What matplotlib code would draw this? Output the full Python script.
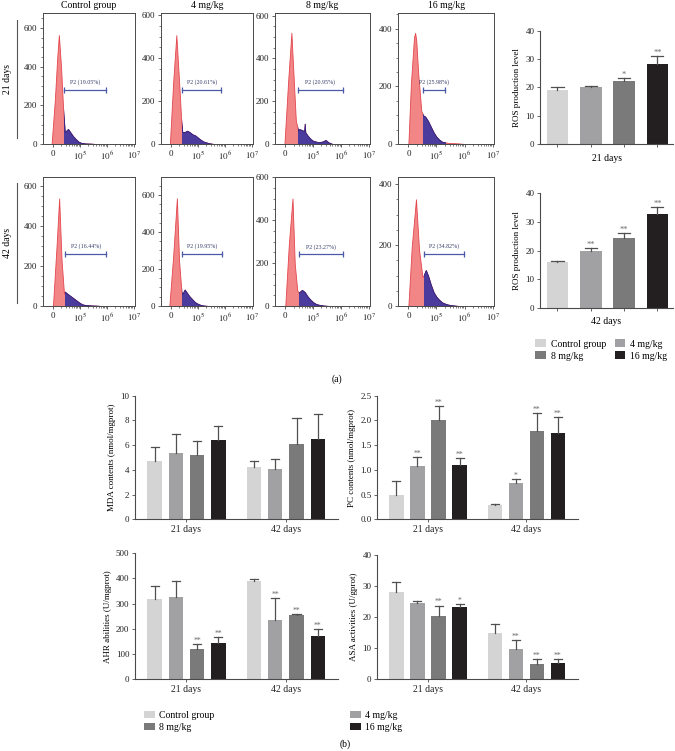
import numpy as np
import matplotlib
matplotlib.use('Agg')
import matplotlib.pyplot as plt
from matplotlib.patches import Rectangle, Patch

plt.rcParams['font.family'] = ['Liberation Serif', 'DejaVu Serif']
plt.rcParams['mathtext.fontset'] = 'stix'

W, H = 675, 751

groups = ['Control group', '4 mg/kg', '8 mg/kg', '16 mg/kg']
bar_colors = ['#d4d4d4', '#a1a1a3', '#7a7a7a', '#231f20']
days = ['21 days', '42 days']

# ROS production level
ros21 = [19.1, 20.2, 22.2, 28.2]
ros21_err = [0.9, 0.2, 1.2, 2.9]
ros21_sig = ['', '', '*', '**']
ros42 = [16.1, 19.8, 24.5, 32.6]
ros42_err = [0.4, 1.0, 1.7, 2.6]
ros42_sig = ['', '**', '**', '**']

# MDA contents
mda21 = [4.74, 5.39, 5.20, 6.39]
mda21_err = [1.09, 1.49, 1.16, 1.18]
mda42 = [4.26, 4.07, 6.09, 6.50]
mda42_err = [0.46, 0.81, 2.08, 2.00]
mda21_sig = ['', '', '', '']
mda42_sig = ['', '', '', '']

# PC contents
pc21 = [0.49, 1.07, 2.01, 1.10]
pc21_err = [0.29, 0.18, 0.28, 0.13]
pc21_sig = ['', '**', '**', '**']
pc42 = [0.28, 0.74, 1.79, 1.74]
pc42_err = [0.02, 0.07, 0.36, 0.33]
pc42_sig = ['', '*', '**', '**']

# AHR abilities
ahr21 = [319, 325, 119, 145]
ahr21_err = [50, 64, 21, 22]
ahr21_sig = ['', '', '**', '**']
ahr42 = [389, 236, 256, 173]
ahr42_err = [10, 87, 3, 26]
ahr42_sig = ['', '**', '**', '**']

# ASA activities
asa21 = [28.1, 24.7, 20.4, 23.4]
asa21_err = [3.2, 0.6, 3.3, 0.9]
asa21_sig = ['', '', '**', '*']
asa42 = [15.0, 9.8, 4.9, 5.2]
asa42_err = [2.7, 2.7, 1.6, 1.2]
asa42_sig = ['', '**', '**', '**']

# flow cytometry histograms (x in decades: 0, 10^5, 10^6, 10^7 -> 0, 1, 2, 3)
h21_ctrl_x = [-0.05, 0.07, 0.16, 0.22, 0.30, 0.38, 0.44, 0.50, 0.56, 0.65, 0.75, 0.85, 0.95, 1.05, 1.2, 1.4, 1.6]
h21_ctrl_y = [0, 228, 450, 564, 400, 176, 62, 70, 78, 60, 40, 25, 12, 6, 3, 2, 0]
h21_4_x = [-0.04, 0.08, 0.20, 0.32, 0.38, 0.42, 0.5, 0.6, 0.7, 0.8, 0.9, 1.0, 1.1, 1.2, 1.3, 1.4, 1.6]
h21_4_y = [0, 283, 507, 251, 112, 57, 55, 62, 55, 45, 40, 30, 20, 12, 8, 4, 0]
h21_8_x = [-0.03, 0.1, 0.22, 0.31, 0.38, 0.46, 0.5, 0.6, 0.68, 0.7, 0.72, 0.8, 0.9, 1.0, 1.2, 1.35, 1.45, 1.55, 1.7]
h21_8_y = [0, 287, 520, 287, 110, 63, 70, 65, 60, 95, 55, 40, 25, 15, 8, 12, 19, 8, 0]
h21_16_x = [0.0, 0.09, 0.2, 0.24, 0.28, 0.35, 0.46, 0.52, 0.6, 0.7, 0.8, 0.9, 1.0, 1.1, 1.2, 1.4, 1.5, 1.6, 1.8, 2.0]
h21_16_y = [0, 210, 370, 386, 360, 245, 115, 100, 95, 80, 60, 40, 25, 15, 8, 4, 3, 3, 2, 0]
h42_ctrl_x = [0.0, 0.14, 0.23, 0.32, 0.41, 0.44, 0.5, 0.6, 0.7, 0.8, 0.9, 1.0, 1.1, 1.2, 1.4, 1.6, 1.8]
h42_ctrl_y = [0, 314, 538, 229, 62, 72, 65, 55, 45, 35, 25, 15, 8, 5, 3, 2, 0]
h42_4_x = [-0.06, 0.08, 0.22, 0.30, 0.39, 0.42, 0.51, 0.6, 0.7, 0.8, 0.9, 1.0, 1.1, 1.2, 1.4]
h42_4_y = [0, 266, 582, 248, 76, 65, 89, 70, 50, 35, 20, 12, 6, 3, 0]
h42_8_x = [0.0, 0.13, 0.26, 0.34, 0.43, 0.48, 0.6, 0.7, 0.8, 0.9, 1.0, 1.1, 1.2, 1.4, 1.6]
h42_8_y = [0, 291, 500, 198, 74, 62, 75, 65, 45, 30, 18, 10, 6, 2, 0]
h42_16_x = [0.0, 0.12, 0.27, 0.38, 0.5, 0.54, 0.62, 0.7, 0.8, 0.9, 1.0, 1.1, 1.2, 1.3, 1.4, 1.5, 1.6, 1.8]
h42_16_y = [0, 195, 350, 184, 96, 100, 118, 100, 70, 45, 30, 20, 12, 8, 5, 3, 2, 0]

gates21 = [(0.41, 1.96), (0.42, 1.87), (0.46, 2.07), (0.52, 1.31)]
gates42 = [(0.44, 1.99), (0.42, 1.88), (0.48, 2.07), (0.54, 1.98)]
gate_y21 = [279, 251, 254, 188]
gate_y42 = [259, 280, 240, 170]
pct21 = ['P2 (19.05%)', 'P2 (20.61%)', 'P2 (20.95%)', 'P2 (25.98%)']
pct42 = ['P2 (16.44%)', 'P2 (19.95%)', 'P2 (23.27%)', 'P2 (34.82%)']
ymax21 = [678, 610, 612, 455]
ymax42 = [645, 697, 600, 423]


def px(l, t, r, b):
    return [l / W, 1 - b / H, (r - l) / W, (b - t) / H]


fig = plt.figure(figsize=(W / 100, H / 100), dpi=100)

red_fc, red_ec = '#f28585', '#e3464e'
blue_fc, blue_ec = '#4b3b9c', '#2c1f82'
axis_c = '#4a4a4a'

hist_cols = [(43, 135), (161, 253), (275, 370), (398, 494)]
hist_rows = [(13, 144), (177, 306)]
hists = [[(h21_ctrl_x, h21_ctrl_y), (h21_4_x, h21_4_y), (h21_8_x, h21_8_y), (h21_16_x, h21_16_y)],
         [(h42_ctrl_x, h42_ctrl_y), (h42_4_x, h42_4_y), (h42_8_x, h42_8_y), (h42_16_x, h42_16_y)]]
gates = [gates21, gates42]
gate_ys = [gate_y21, gate_y42]
pcts = [pct21, pct42]
ymaxs = [ymax21, ymax42]

minor_x = [d + np.log10(k) for d in range(3) for k in range(2, 10)]

for r, (t, b) in enumerate(hist_rows):
    for c, (l, rr) in enumerate(hist_cols):
        ax = fig.add_axes(px(l, t, rr, b))
        x, y = hists[r][c]
        x = np.array(x)
        y = np.array(y)
        ax.fill_between(x, y, facecolor=red_fc, edgecolor=red_ec, lw=0.6)
        gl, gr = gates[r][c]
        blue = ax.fill_between(x, y, facecolor=blue_fc, edgecolor=blue_ec, lw=0.6)
        blue.set_clip_path(Rectangle((gl, -50), gr - gl, 3000, transform=ax.transData))
        by = gate_ys[r][c]
        ax.plot([gl, gr], [by, by], color='#4a5aa8', lw=0.9, marker='|', markersize=5, mew=0.9)
        ax.annotate(pcts[r][c], ((gl + gr) / 2, by), xytext=(0, 5.5), textcoords='offset points',
                    ha='center', va='center', fontsize=4.3, color='#3a3f6a')
        ax.set_xlim(-0.37, 3.05)
        ax.set_ylim(0, ymaxs[r][c])
        ax.set_xticks([0, 1, 2, 3])
        ax.set_xticklabels(['0', '$10^5$', '$10^6$', '$10^7$'])
        ax.set_xticks(minor_x, minor=True)
        top_tick = 600 if ymaxs[r][c] >= 600 else 400
        ax.set_yticks(np.arange(0, top_tick + 1, 200))
        ax.set_yticks(np.arange(0, ymaxs[r][c], 50), minor=True)
        ax.tick_params(labelsize=6.5, length=2.5, width=0.6, pad=1.5, colors=axis_c, labelcolor='#222')
        ax.tick_params(which='minor', length=1.3, width=0.5, colors=axis_c)
        for s in ax.spines.values():
            s.set_linewidth(0.7)
            s.set_color(axis_c)
        if r == 0:
            fig.text(((l + rr) / 2) / W, 1 - 6 / H, groups[c], ha='center', va='center', fontsize=7)

# side labels for rows
for lab, (y0, y1) in zip(days, [(20, 138), (183, 303)]):
    fig.add_artist(plt.Line2D([17 / W, 17 / W], [1 - y0 / H, 1 - y1 / H], color='#555', lw=0.8))
    fig.text(7 / W, 1 - (y0 + y1) / 2 / H, lab, rotation=90, ha='center', va='center', fontsize=7)


def bar_panel(ax, pos, vals, errs, sigs, width, fs):
    for i in range(len(vals)):
        ax.bar(pos[i], vals[i], width, color=bar_colors[i], zorder=2)
        top = vals[i] + errs[i]
        ax.plot([pos[i], pos[i]], [vals[i], top], color='#505050', lw=0.9, zorder=3)
        ax.plot([pos[i] - width * 0.28, pos[i] + width * 0.28], [top, top], color='#505050', lw=0.9, zorder=3)
        if sigs[i]:
            ax.annotate(sigs[i], (pos[i], top), xytext=(0, -0.5), textcoords='offset points',
                        ha='center', va='bottom', fontsize=fs, color='#6a6a6a')


def style_axes(ax):
    for s in ['top', 'right']:
        ax.spines[s].set_visible(False)
    for s in ['left', 'bottom']:
        ax.spines[s].set_linewidth(0.8)
        ax.spines[s].set_color(axis_c)
    ax.tick_params(labelsize=6.5, length=2.5, width=0.6, pad=1.5, colors=axis_c, labelcolor='#222')


# ROS panels
ros_sets = [(ros21, ros21_err, ros21_sig, '21 days', (540, 30.7, 673, 144)),
            (ros42, ros42_err, ros42_sig, '42 days', (540, 193.3, 673, 307.7))]
for vals, errs, sigs, lab, box in ros_sets:
    ax = fig.add_axes(px(*box))
    pos = np.arange(4)
    bar_panel(ax, pos, vals, errs, sigs, 0.65, 6)
    ax.set_xlim(-0.525, 3.47)
    ax.set_ylim(0, 40)
    ax.set_yticks([0, 10, 20, 30, 40])
    ax.set_xticks(pos)
    ax.set_xticklabels([])
    style_axes(ax)
    ax.set_xlabel(lab, fontsize=7, labelpad=3)
    ax.set_ylabel('ROS production level', fontsize=6.5, labelpad=3)

handles = [Patch(facecolor=bar_colors[i], label=groups[i]) for i in range(4)]
fig.legend([handles[0], handles[2], handles[1], handles[3]],
           [groups[0], groups[2], groups[1], groups[3]],
           loc='center right', bbox_to_anchor=(672 / W, 1 - 350 / H), ncol=2, frameon=False,
           fontsize=7, handlelength=1.1, handleheight=0.8, handletextpad=0.5,
           columnspacing=0.9, labelspacing=0.3, borderpad=0)

fig.text(337 / W, 1 - 379 / H, '(a)', ha='center', va='center', fontsize=7)

# panel (b)
offsets = np.array([-1.5, -0.5, 0.5, 1.5])
centers = [0, 4.67]
b_sets = [
    (mda21, mda21_err, mda21_sig, mda42, mda42_err, mda42_sig, (135, 395.7, 338, 519.3),
     10, np.arange(0, 11, 2), 'MDA contents (nmol/mgprot)', None),
    (pc21, pc21_err, pc21_sig, pc42, pc42_err, pc42_sig, (377, 395.7, 578, 519.3),
     2.5, np.arange(0, 2.6, 0.5), 'PC contents (nmol/mgprot)', '%.1f'),
    (ahr21, ahr21_err, ahr21_sig, ahr42, ahr42_err, ahr42_sig, (135, 553.3, 338, 679),
     500, np.arange(0, 501, 100), 'AHR abilities (U/mgprot)', None),
    (asa21, asa21_err, asa21_sig, asa42, asa42_err, asa42_sig, (377, 555, 578, 679.3),
     40, np.arange(0, 41, 10), 'ASA activities (U/gprot)', None),
]
for v1, e1, s1, v2, e2, s2, box, ymax, yt, ylab, fmt in b_sets:
    ax = fig.add_axes(px(*box))
    bar_panel(ax, centers[0] + offsets, v1, e1, s1, 0.68, 5.5)
    bar_panel(ax, centers[1] + offsets, v2, e2, s2, 0.68, 5.5)
    ax.set_xlim(-2.42, 7.12)
    ax.set_ylim(0, ymax)
    ax.set_yticks(yt)
    if fmt:
        ax.set_yticklabels([fmt % t for t in yt])
    ax.set_xticks(centers)
    ax.set_xticklabels(days, fontsize=7)
    style_axes(ax)
    ax.tick_params(axis='x', labelsize=7)
    ax.set_ylabel(ylab, fontsize=6.5, labelpad=3)

fig.legend([handles[0], handles[2]], [groups[0], groups[2]], loc='upper left',
           bbox_to_anchor=(139 / W, 1 - 706 / H), frameon=False, fontsize=7,
           handlelength=1.1, handleheight=0.8, handletextpad=0.5, labelspacing=0.3, borderpad=0)
fig.legend([handles[1], handles[3]], [groups[1], groups[3]], loc='upper left',
           bbox_to_anchor=(345 / W, 1 - 706 / H), frameon=False, fontsize=7,
           handlelength=1.1, handleheight=0.8, handletextpad=0.5, labelspacing=0.3, borderpad=0)

fig.text(345 / W, 1 - 744 / H, '(b)', ha='center', va='center', fontsize=7)

fig.savefig('out.png', dpi=100)
